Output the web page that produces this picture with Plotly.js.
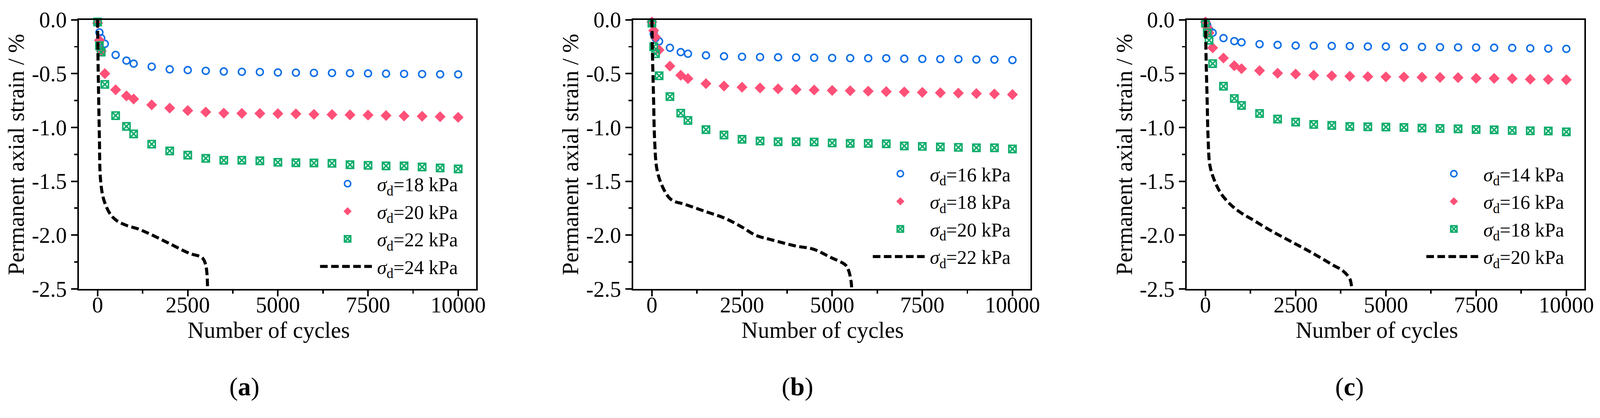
<!DOCTYPE html>
<html>
<head>
<meta charset="utf-8">
<script src="https://cdn.plot.ly/plotly-3.0.1.min.js"></script>
<style>
  html, body { margin: 0; padding: 0; background: #fff; overflow: hidden; }
</style>
</head>
<body>
<div id="chart"></div>
<script>
// cycles at which the strain was recorded (same for every test)
var cycles = [0, 50, 100, 200, 500, 800, 1000, 1500, 2000, 2500, 3000, 3500, 4000, 4500,
              5000, 5500, 6000, 6500, 7000, 7500, 8000, 8500, 9000, 9500, 10000];

// (a)
var a18 = [-0.02, -0.117, -0.17, -0.223, -0.326, -0.379, -0.407, -0.435, -0.46, -0.467, -0.474, -0.48, -0.483,
           -0.485, -0.489, -0.491, -0.493, -0.494, -0.496, -0.498, -0.5, -0.502, -0.504, -0.506, -0.507];
var a20 = [-0.03, -0.19, -0.29, -0.5, -0.65, -0.707, -0.736, -0.79, -0.82, -0.843, -0.857, -0.867, -0.869,
           -0.87, -0.872, -0.874, -0.878, -0.88, -0.883, -0.885, -0.889, -0.893, -0.896, -0.9, -0.906];
var a22 = [-0.02, -0.24, -0.3, -0.6, -0.89, -0.99, -1.06, -1.155, -1.218, -1.257, -1.287, -1.305, -1.305,
           -1.31, -1.324, -1.328, -1.33, -1.333, -1.346, -1.352, -1.357, -1.357, -1.367, -1.376, -1.385];
var a24x = [0, 10, 30, 50, 80, 170, 360, 550, 800, 1100, 1450, 2000, 2550, 2900, 3000, 3050];
var a24 = [0, -0.33, -0.74, -1.1, -1.48, -1.67, -1.81, -1.87, -1.91, -1.94, -1.99, -2.08, -2.17, -2.21, -2.28, -2.5];

// (b)
var b16 = [-0.02, -0.13, -0.17, -0.2, -0.26, -0.3, -0.315, -0.33, -0.339, -0.343, -0.346, -0.348, -0.35,
           -0.352, -0.354, -0.356, -0.357, -0.357, -0.361, -0.363, -0.365, -0.365, -0.369, -0.37, -0.374];
var b18 = [-0.02, -0.1, -0.16, -0.28, -0.43, -0.515, -0.546, -0.593, -0.615, -0.626, -0.633, -0.641, -0.648,
           -0.652, -0.656, -0.659, -0.663, -0.667, -0.67, -0.674, -0.678, -0.681, -0.685, -0.689, -0.694];
var b20 = [-0.03, -0.25, -0.315, -0.52, -0.713, -0.867, -0.935, -1.02, -1.07, -1.11, -1.126, -1.133, -1.133,
           -1.135, -1.144, -1.148, -1.148, -1.152, -1.172, -1.176, -1.181, -1.185, -1.189, -1.189, -1.2];
var b22x = [0, 20, 47, 75, 140, 280, 470, 610, 900, 1460, 2020, 2500, 2870, 3340, 4000, 4470, 4940, 5370, 5460, 5530, 5540];
var b22 = [0, -0.37, -0.74, -1.11, -1.39, -1.54, -1.65, -1.685, -1.713, -1.778, -1.843, -1.926, -2.0, -2.046,
           -2.102, -2.13, -2.204, -2.278, -2.333, -2.444, -2.5];

// (c)
var c14 = [-0.02, -0.05, -0.09, -0.12, -0.17, -0.198, -0.209, -0.226, -0.233, -0.239, -0.241, -0.243, -0.244,
           -0.248, -0.248, -0.252, -0.252, -0.254, -0.256, -0.257, -0.259, -0.261, -0.265, -0.267, -0.27];
var c16 = [-0.02, -0.07, -0.12, -0.26, -0.355, -0.426, -0.454, -0.472, -0.496, -0.504, -0.515, -0.52, -0.524,
           -0.528, -0.53, -0.531, -0.533, -0.535, -0.537, -0.543, -0.544, -0.546, -0.552, -0.554, -0.557];
var c18 = [-0.03, -0.12, -0.19, -0.407, -0.617, -0.731, -0.796, -0.87, -0.922, -0.95, -0.972, -0.981, -0.991,
           -0.994, -0.996, -1.0, -1.006, -1.009, -1.013, -1.019, -1.022, -1.028, -1.031, -1.033, -1.041];
var c20x = [0, 19, 47, 75, 122, 235, 424, 706, 989, 1271, 1836, 2401, 2966, 3531, 3814, 4002, 4050, 4060];
var c20 = [0, -0.37, -0.74, -1.11, -1.35, -1.48, -1.61, -1.72, -1.794, -1.85, -1.963, -2.065, -2.167, -2.278,
           -2.333, -2.407, -2.48, -2.5];

var stressA = ['18', '20', '22', '24'];
var stressB = ['16', '18', '20', '22'];
var stressC = ['14', '16', '18', '20'];
var panelTags = ['a', 'b', 'c'];

var yTickVals = [0, -0.5, -1.0, -1.5, -2.0, -2.5];
var yTickText = ['0.0', '-0.5', '-1.0', '-1.5', '-2.0', '-2.5'];
var xTickVals = [0, 2500, 5000, 7500, 10000];
var xTickText = ['0', '2500', '5000', '7500', '10000'];

var FONT = 'Liberation Serif, Times New Roman, serif';
var BLUE = '#1170e6', PINK = '#ff5078', GREEN = '#10ad6c';

// figure is laid out on a 4200 x 1069 grid, then scaled to whatever the window really shows
var W0 = 4200, H0 = 1069;
var vw = window.innerWidth || document.documentElement.clientWidth || W0;
var vh = window.innerHeight || document.documentElement.clientHeight || H0;
var k = Math.min(vw / W0, vh / H0, 1);
function px(v) { return v * k; }

function name(s) { return '<i>σ</i><sub>d</sub>=' + s + ' kPa'; }

function panel(n, vals, dashX, dashY, labels) {
  var sfx = n === 1 ? '' : String(n);
  var leg = 'legend' + sfx;
  var common = { xaxis: 'x' + sfx, yaxis: 'y' + sfx, legend: leg, cliponaxis: false };
  return [
    Object.assign({ x: cycles, y: vals[0], mode: 'markers', name: name(labels[0]), legendgroup: leg + 'g1',
      marker: { symbol: 'circle-open', size: px(18), color: BLUE, line: { width: px(4), color: BLUE } } }, common),
    Object.assign({ x: cycles, y: vals[1], mode: 'markers', name: name(labels[1]), legendgroup: leg + 'g2',
      marker: { symbol: 'diamond', size: px(22), color: PINK } }, common),
    Object.assign({ x: cycles, y: vals[2], mode: 'markers', name: name(labels[2]), legendgroup: leg + 'g3',
      marker: { symbol: 'square-x-open', size: px(19), color: GREEN, line: { width: px(4), color: GREEN } } }, common),
    Object.assign({ x: dashX, y: dashY, mode: 'lines', name: name(labels[3]), legendgroup: leg + 'g4',
      line: { color: '#000', width: px(8), dash: px(20).toFixed(1) + 'px,' + px(9).toFixed(1) + 'px', shape: 'spline' } },
      common, { cliponaxis: true })
  ];
}

var data = [].concat(
  panel(1, [a18, a20, a22], a24x, a24, stressA),
  panel(2, [b16, b18, b20], b22x, b22, stressB),
  panel(3, [c14, c16, c18], c20x, c20, stressC)
);

var plotLeft = [207, 1662, 3115], plotRight = [1250, 2705, 4159];
var plotTop = 52, plotBottom = 758;

function xAxis(i) {
  return {
    domain: [plotLeft[i] / W0, plotRight[i] / W0],
    anchor: i === 0 ? 'y' : 'y' + (i + 1),
    range: [-520, 10500],
    showline: true, mirror: true, linewidth: px(4), linecolor: '#000',
    showgrid: false, zeroline: false,
    ticks: 'outside', ticklen: px(16), tickwidth: px(4), tickcolor: '#000',
    ticklabelstandoff: Math.round(px(-28)),
    tickvals: xTickVals, ticktext: xTickText,
    minor: { ticks: 'outside', ticklen: px(8), tickwidth: px(4), tickcolor: '#000', dtick: 1250, tick0: 0, showgrid: false },
    tickfont: { family: FONT, size: px(58), color: '#000' }
  };
}
function yAxis(i) {
  return {
    domain: [1 - plotBottom / H0, 1 - plotTop / H0],
    anchor: i === 0 ? 'x' : 'x' + (i + 1),
    range: [-2.5, 0],
    showline: true, mirror: true, linewidth: px(4), linecolor: '#000',
    showgrid: false, zeroline: false,
    ticks: 'outside', ticklen: px(16), tickwidth: px(4), tickcolor: '#000',
    tickvals: yTickVals, ticktext: yTickText,
    minor: { ticks: 'outside', ticklen: px(8), tickwidth: px(4), tickcolor: '#000', dtick: 0.25, tick0: 0, showgrid: false },
    tickfont: { family: FONT, size: px(58), color: '#000' }
  };
}

// legend left edge and first row centre per panel
var legLeft = [835, 2286, 3739], legY = [484, 458, 458];
function legend(i) {
  return {
    x: legLeft[i] / W0, xanchor: 'left',
    y: 1 - (legY[i] - 42) / H0, yanchor: 'top',
    bgcolor: 'rgba(0,0,0,0)', borderwidth: 0,
    font: { family: FONT, size: px(51), color: '#000' },
    itemwidth: Math.max(30, Math.round(px(145))), tracegroupgap: px(3)
  };
}

var yTitleX = [43, 1498, 2952];
var xTitleX = [705, 2159, 3614];
var tagX = [641, 2093, 3543];
var annotations = [];
for (var i = 0; i < 3; i++) {
  annotations.push({ xref: 'paper', yref: 'paper', x: yTitleX[i] / W0, y: 1 - 405 / H0, textangle: -90,
    text: 'Permanent axial strain / %', showarrow: false, xanchor: 'center', yanchor: 'middle',
    font: { family: FONT, size: px(60), color: '#000' } });
  annotations.push({ xref: 'paper', yref: 'paper', x: xTitleX[i] / W0, y: 1 - 866 / H0,
    text: 'Number of cycles', showarrow: false, xanchor: 'center', yanchor: 'middle',
    font: { family: FONT, size: px(60), color: '#000' } });
  annotations.push({ xref: 'paper', yref: 'paper', x: tagX[i] / W0, y: 1 - 1015 / H0,
    text: '(<b>' + panelTags[i] + '</b>)', showarrow: false, xanchor: 'center', yanchor: 'middle',
    font: { family: FONT, size: px(68), color: '#000' } });
}

var W = Math.floor(W0 * k), H = Math.floor(H0 * k);
var div = document.getElementById('chart');
div.style.width = W + 'px';
div.style.height = H + 'px';

var layout = {
  width: W, height: H,
  margin: { l: 0, r: 0, t: 0, b: 0 },
  paper_bgcolor: '#fff', plot_bgcolor: '#fff',
  showlegend: true,
  xaxis: xAxis(0), xaxis2: xAxis(1), xaxis3: xAxis(2),
  yaxis: yAxis(0), yaxis2: yAxis(1), yaxis3: yAxis(2),
  legend: legend(0), legend2: legend(1), legend3: legend(2),
  annotations: annotations
};

Plotly.newPlot('chart', data, layout, { staticPlot: true });
</script>
</body>
</html>
